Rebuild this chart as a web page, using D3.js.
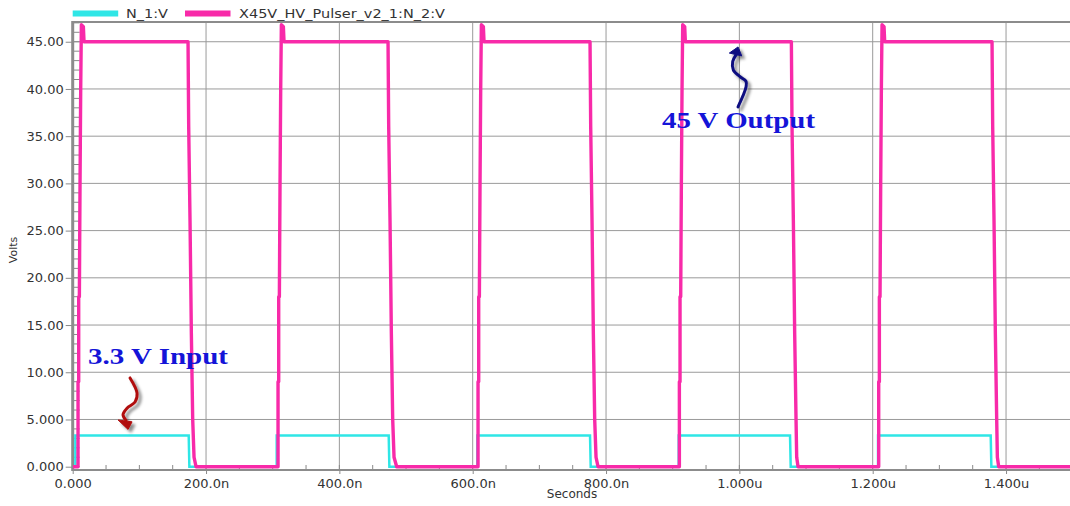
<!DOCTYPE html>
<html>
<head>
<meta charset="utf-8">
<script src="https://cdn.jsdelivr.net/npm/d3@7"></script>
<style>
  body { margin: 0; background: #fff; }
  text { font-family: "DejaVu Sans", sans-serif; }
</style>
</head>
<body>
<svg id="chart" width="1070" height="506"></svg>
<script>
// время в нс, напряжение в В
const xTicks = [0, 200, 400, 600, 800, 1000, 1200, 1400];
const xLabels = ["0.000", "200.0n", "400.0n", "600.0n", "800.0n", "1.000u", "1.200u", "1.400u"];
const yTicks = [0, 5, 10, 15, 20, 25, 30, 35, 40, 45];
const yLabels = ["0.000", "5.000", "10.00", "15.00", "20.00", "25.00", "30.00", "35.00", "40.00", "45.00"];

const seriesNames = ["N_1:V", "X45V_HV_Pulser_v2_1:N_2:V"];

// N_1:V — входной сигнал 3.3 В
const n1Points = [
  [0, 0], [4, 0], [4, 3.3], [174, 3.3], [175, 0],
  [306, 0], [306, 3.3], [474, 3.3], [475, 0],
  [607, 0], [607, 3.3], [776, 3.3], [777, 0],
  [909, 0], [909, 3.3], [1076, 3.3], [1077, 0],
  [1208, 0], [1208, 3.3], [1377, 3.3], [1378, 0], [1500, 0]
];

// N_2:V — выход 45 В
const n2Points = [
  [0, 0],
  [8, 0], [8, 9], [9, 9], [9, 18], [10, 18], [11, 30], [12, 40], [13, 46.8], [16, 46.6], [17, 45],
  [173, 45], [174, 36], [176, 26], [178, 14], [180, 5], [182, 1], [185, 0],
  [308, 0], [308, 9], [309, 9], [309, 18], [310, 18], [311, 30], [312, 40], [313, 46.8], [316, 46.6], [317, 45],
  [473, 45], [474, 36], [476, 26], [478, 14], [480, 5], [482, 1], [486, 0],
  [608, 0], [608, 9], [609, 9], [609, 18], [610, 18], [611, 30], [612, 40], [613, 46.8], [616, 46.6], [617, 45],
  [776, 45], [777, 36], [779, 26], [781, 14], [783, 5], [785, 1], [788, 0],
  [910, 0], [910, 9], [911, 9], [911, 18], [912, 18], [913, 30], [914, 40], [915, 46.8], [918, 46.6], [919, 45],
  [1078, 45], [1079, 36], [1081, 26], [1083, 14], [1085, 5], [1086, 1], [1088, 0],
  [1209, 0], [1209, 9], [1210, 9], [1210, 18], [1211, 18], [1212, 30], [1213, 40], [1214, 46.8], [1217, 46.6], [1218, 45],
  [1379, 45], [1380, 36], [1382, 26], [1384, 14], [1386, 5], [1387, 1], [1389, 0],
  [1500, 0]
];

// подписи и стрелки (в координатах данных)
const inputLabel = { text: "3.3 V Input", t: 23, v: 10.87 };
const outputLabel = { text: "45 V Output", t: 884, v: 35.87 };
const inputArrow = [[86, 9.4], [96.5, 7.8], [93.5, 6.85], [81.5, 6.2], [75.5, 5.5], [80, 4.9]];
const inputHead = [[68, 4.95], [89, 4.75], [83, 3.95]];
const outputArrow = [[998, 38.1], [1010, 40.2], [1010, 40.8], [1001, 41.3], [991, 42.0], [990, 42.9], [995, 43.6]];
const outputHead = [[985, 43.8], [1003.5, 43.5], [998, 44.45]];

const cyan = "#2fe6e6";
const magenta = "#f82aa9";

const svg = d3.select("#chart");
const W = +svg.attr("width");

const x = d3.scaleLinear().domain([0, 1500]).range([72.7, 1072.7]);
const y = d3.scaleLinear().domain([-0.35, 47.09]).range([470, 22]);

svg.append("rect").attr("width", W).attr("height", 506).attr("fill", "#fff");

svg.append("defs").append("clipPath").attr("id", "plot")
  .append("rect").attr("x", x(0)).attr("y", y(47.09)).attr("width", W - x(0)).attr("height", y(-0.35) - y(47.09));

const defs = svg.select("defs");
const f = defs.append("filter").attr("id", "shadow").attr("x", "-50%").attr("y", "-50%").attr("width", "200%").attr("height", "200%");
f.append("feDropShadow").attr("dx", 3).attr("dy", 3).attr("stdDeviation", 1.5).attr("flood-color", "#000").attr("flood-opacity", 0.45);

// сетка
svg.append("g").selectAll("line").data(xTicks.slice(1)).enter().append("line")
  .attr("x1", d => x(d)).attr("x2", d => x(d))
  .attr("y1", y(47.09)).attr("y2", y(-0.35))
  .attr("stroke", "#9a9a9a").attr("stroke-width", 1);
svg.append("g").selectAll("line").data(yTicks.slice(1)).enter().append("line")
  .attr("x1", x(0)).attr("x2", W)
  .attr("y1", d => y(d)).attr("y2", d => y(d))
  .attr("stroke", "#9a9a9a").attr("stroke-width", 1);

// мелкие деления
svg.append("g").selectAll("line").data(d3.range(0, 48, 1)).enter().append("line")
  .attr("x1", x(0)).attr("x2", x(0) + 7)
  .attr("y1", d => y(d)).attr("y2", d => y(d))
  .attr("stroke", "#8a8a8a").attr("stroke-width", 1);
svg.append("g").selectAll("line").data(d3.range(0, 1501, 50)).enter().append("line")
  .attr("x1", d => x(d)).attr("x2", d => x(d))
  .attr("y1", y(-0.35)).attr("y2", y(-0.35) - 5)
  .attr("stroke", "#8a8a8a").attr("stroke-width", 1);

// оси
const yAxis = svg.append("g").attr("transform", `translate(${x(0)},0)`)
  .call(d3.axisLeft(y).tickValues(yTicks).tickFormat((d, i) => yLabels[i]).tickSize(7).tickPadding(2));
const xAxis = svg.append("g").attr("transform", `translate(0,${y(-0.35)})`)
  .call(d3.axisBottom(x).tickValues(xTicks).tickFormat((d, i) => xLabels[i]).tickSize(4).tickPadding(5));
[yAxis, xAxis].forEach(a => {
  a.select(".domain").remove();
  a.selectAll(".tick line").attr("stroke", "#8a8a8a");
  a.selectAll("text").attr("fill", "#333").style("font-size", "13px")
    .style("font-family", '"DejaVu Sans", sans-serif');
});

// линии осей и рамка
svg.append("line").attr("x1", x(0)).attr("x2", x(0)).attr("y1", y(47.09) - 1).attr("y2", y(-0.35) + 1)
  .attr("stroke", "#8c8c8c").attr("stroke-width", 3);
svg.append("line").attr("x1", x(0)).attr("x2", W).attr("y1", y(-0.35)).attr("y2", y(-0.35))
  .attr("stroke", "#8c8c8c").attr("stroke-width", 2);
svg.append("line").attr("x1", x(0)).attr("x2", W).attr("y1", y(47.09)).attr("y2", y(47.09))
  .attr("stroke", "#8c8c8c").attr("stroke-width", 2);

// кривые
const line = d3.line().x(d => x(d[0])).y(d => y(d[1]));
const plot = svg.append("g").attr("clip-path", "url(#plot)");
plot.append("path").datum(n1Points).attr("d", line)
  .attr("fill", "none").attr("stroke", cyan).attr("stroke-width", 2.5);
plot.append("path").datum(n2Points).attr("d", line)
  .attr("fill", "none").attr("stroke", magenta).attr("stroke-width", 3.4).attr("stroke-linejoin", "round");

// легенда
const legend = svg.append("g");
[[72.7, 126, 42], [185, 239, 206]].forEach((p, i) => {
  legend.append("rect").attr("x", p[0]).attr("y", 10.5).attr("width", 45.5).attr("height", 6)
    .attr("fill", i ? magenta : cyan);
  legend.append("text").attr("x", p[1]).attr("y", 18).attr("fill", "#333")
    .attr("textLength", p[2]).attr("lengthAdjust", "spacingAndGlyphs")
    .style("font-size", "13px").text(seriesNames[i]);
});

// подписи осей
svg.append("text").attr("x", 572).attr("y", 498).attr("text-anchor", "middle")
  .attr("fill", "#333").style("font-size", "12px").text("Seconds");
svg.append("text").attr("transform", "translate(17,250) rotate(-90)").attr("text-anchor", "middle")
  .attr("fill", "#333").style("font-size", "11px").text("Volts");

// аннотации
const curve = d3.line().x(d => x(d[0])).y(d => y(d[1])).curve(d3.curveCatmullRom);
const drawArrow = (pts, head, color) => {
  const g = svg.append("g").attr("filter", "url(#shadow)");
  g.append("path").datum(pts).attr("d", curve).attr("fill", "none")
    .attr("stroke", color).attr("stroke-width", 3).attr("stroke-linecap", "round");
  g.append("path").datum(head).attr("d", d3.line().x(d => x(d[0])).y(d => y(d[1])).curve(d3.curveLinearClosed))
    .attr("fill", color).attr("stroke", color).attr("stroke-width", 1);
};
drawArrow(inputArrow, inputHead, "#b01010");
drawArrow(outputArrow, outputHead, "#0a0a80");

[[inputLabel, 140], [outputLabel, 153]].forEach(([l, len]) => {
  svg.append("text").attr("x", x(l.t)).attr("y", y(l.v))
    .attr("textLength", len).attr("lengthAdjust", "spacingAndGlyphs")
    .attr("fill", "#1414d8")
    .style("font-family", '"Liberation Serif", "Times New Roman", serif')
    .style("font-weight", "bold").style("font-size", "23px")
    .text(l.text);
});
</script>
</body>
</html>
